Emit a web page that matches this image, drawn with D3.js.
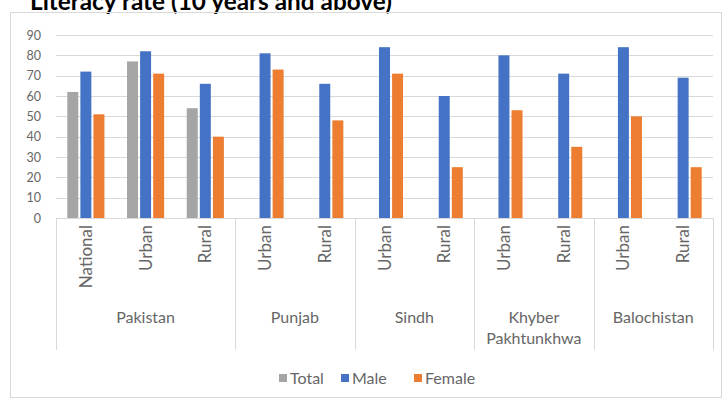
<!DOCTYPE html>
<html>
<head>
<meta charset="utf-8">
<script src="https://cdn.jsdelivr.net/npm/d3@7"></script>
<style>
  body { margin: 0; background: #fff; }
  svg { display: block; font-family: Lato, "Open Sans", sans-serif; }
</style>
</head>
<body>
<div id="chart"></div>
<script>
// data
const groups = ['Pakistan', 'Punjab', 'Sindh', 'Khyber Pakhtunkhwa', 'Balochistan'];
const groupOf = ['Pakistan', 'Pakistan', 'Pakistan', 'Punjab', 'Punjab', 'Sindh', 'Sindh',
  'Khyber Pakhtunkhwa', 'Khyber Pakhtunkhwa', 'Balochistan', 'Balochistan'];
const subLabels = ['National', 'Urban', 'Rural', 'Urban', 'Rural', 'Urban', 'Rural',
  'Urban', 'Rural', 'Urban', 'Rural'];
const series = ['Total', 'Male', 'Female'];
const total = [62, 77, 54, null, null, null, null, null, null, null, null];
const male = [72, 82, 66, 81, 66, 84, 60, 80, 71, 84, 69];
const female = [51, 71, 40, 73, 48, 71, 25, 53, 35, 50, 25];
const yTicks = [0, 10, 20, 30, 40, 50, 60, 70, 80, 90];
const colors = { Total: '#A5A5A5', Male: '#4472C4', Female: '#ED7D31' };

const W = 728, H = 403;
const plotL = 56, plotR = 713, plotT = 35, plotB = 218;

const svg = d3.select('#chart').append('svg').attr('width', W).attr('height', H);
svg.append('rect').attr('width', W).attr('height', H).attr('fill', '#fff');

// title, top half cut off like the source
svg.append('text')
  .attr('x', 30).attr('y', 10)
  .attr('textLength', 362).attr('lengthAdjust', 'spacingAndGlyphs')
  .attr('font-size', 24).attr('font-weight', 'bold').attr('fill', '#000')
  .text('Literacy rate (10 years and above)');

svg.append('rect')
  .attr('x', 10.5).attr('y', 12.5).attr('width', 711).attr('height', 385)
  .attr('fill', 'none').attr('stroke', '#d9d9d9');

const idx = d3.range(subLabels.length);
const x = d3.scaleBand().domain(idx).range([plotL, plotR]);
const inner = d3.scaleBand().domain(series).range([11.3, x.bandwidth() - 11.3]).paddingInner(0.16);
const y = d3.scaleLinear().domain([0, 90]).range([plotB, plotT]);

// gridlines
svg.append('g').selectAll('line').data(yTicks).enter().append('line')
  .attr('x1', plotL).attr('x2', plotR)
  .attr('y1', d => Math.round(y(d)) + 0.5).attr('y2', d => Math.round(y(d)) + 0.5)
  .attr('stroke', '#d9d9d9');

const yAxis = svg.append('g').attr('transform', `translate(${plotL},0)`)
  .call(d3.axisLeft(y).tickValues(yTicks).tickSize(0).tickPadding(15));
yAxis.select('.domain').remove();
yAxis.selectAll('text').attr('font-size', 12.5).attr('fill', '#666')
  .attr('font-family', 'Lato, sans-serif');

// bars
const rows = idx.map(i => ({ i, Total: total[i], Male: male[i], Female: female[i] }));
const cell = svg.append('g').selectAll('g').data(rows).enter().append('g')
  .attr('transform', d => `translate(${x(d.i)},0)`);
cell.selectAll('rect')
  .data(d => series.filter(s => d[s] != null).map(s => ({ s, v: d[s] })))
  .enter().append('rect')
  .attr('x', d => inner(d.s))
  .attr('width', inner.bandwidth())
  .attr('y', d => y(d.v))
  .attr('height', d => plotB - y(d.v))
  .attr('fill', d => colors[d.s]);

// category axis
svg.append('line').attr('x1', plotL).attr('x2', plotR)
  .attr('y1', plotB + 0.5).attr('y2', plotB + 0.5).attr('stroke', '#d9d9d9');

svg.append('g').selectAll('text').data(idx).enter().append('text')
  .attr('transform', i => `translate(${x(i) + x.bandwidth() / 2 + 6},225) rotate(-90)`)
  .attr('text-anchor', 'end')
  .attr('font-size', 17).attr('fill', '#666')
  .text(i => subLabels[i]);

// group separators and labels
const spans = groups.map(g => {
  const members = idx.filter(i => groupOf[i] === g);
  return { g, x0: x(members[0]), x1: x(members[members.length - 1]) + x.bandwidth() };
});
const seps = [spans[0].x0].concat(spans.map(s => s.x1));
svg.append('g').selectAll('line').data(seps).enter().append('line')
  .attr('x1', d => Math.round(d) + 0.5).attr('x2', d => Math.round(d) + 0.5)
  .attr('y1', plotB).attr('y2', 350)
  .attr('stroke', '#d9d9d9');

const gl = svg.append('g').selectAll('text').data(spans).enter().append('text')
  .attr('x', d => (d.x0 + d.x1) / 2).attr('y', 323)
  .attr('text-anchor', 'middle').attr('font-size', 16).attr('fill', '#666');
gl.each(function (d) {
  const words = d.g === 'Khyber Pakhtunkhwa' ? ['Khyber', 'Pakhtunkhwa'] : [d.g];
  d3.select(this).selectAll('tspan').data(words).enter().append('tspan')
    .attr('x', (d.x0 + d.x1) / 2).attr('dy', (w, k) => k === 0 ? 0 : 21)
    .text(w => w);
});

// legend
const legendX = [279, 341, 414];
const lg = svg.append('g').selectAll('g').data(series).enter().append('g')
  .attr('transform', (s, k) => `translate(${legendX[k]},378)`);
lg.append('rect').attr('x', 0).attr('y', -4).attr('width', 8).attr('height', 8)
  .attr('fill', s => colors[s]);
lg.append('text').attr('x', 11).attr('y', 5.5).attr('font-size', 16).attr('fill', '#666')
  .text(s => s);
</script>
</body>
</html>
